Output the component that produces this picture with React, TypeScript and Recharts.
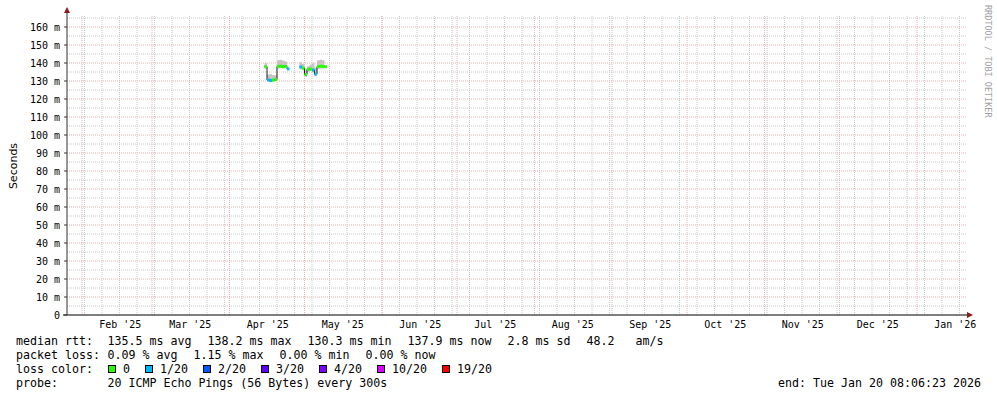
import React from "react";
import { Area, ComposedChart, Line, ReferenceLine, Scatter, XAxis, YAxis } from "recharts";

const MONO = "'DejaVu Sans Mono', monospace";

// samples (one per day), gap on Apr 25 - Apr 28
const DATES = [
  "2025-04-15", "2025-04-16", "2025-04-17", "2025-04-18", "2025-04-19", "2025-04-20",
  "2025-04-21", "2025-04-22", "2025-04-23", "2025-04-24", "2025-04-25",
  "2025-04-29", "2025-04-30", "2025-05-01", "2025-05-02", "2025-05-03", "2025-05-04",
  "2025-05-05", "2025-05-06", "2025-05-07", "2025-05-08", "2025-05-09",
];
const MEDIAN = [
  138.0, 130.6, 130.3, 130.5, 130.8, 138.1, 138.2, 138.0, 138.1, 136.7, null,
  137.8, 137.2, 133.6, 136.4, 136.7, 136.1, 133.9, 138.0, 138.2, 138.1, 137.9,
];
const LOSS = [0, 1, 1, 0, 0, 0, 0, 0, 0, 1, null, 1, 0, 0, 0, 0, 1, 1, 0, 0, 0, 0];
const SMOKE_LO = [
  136.8, 129.8, 129.5, 129.7, 130.0, 137.0, 137.2, 137.0, 137.2, 135.4, null,
  136.6, 136.0, 132.4, 135.2, 135.6, 134.8, 132.6, 136.8, 137.0, 137.0, 136.8,
];
const SMOKE_HI = [
  139.8, 133.6, 133.8, 133.4, 133.2, 141.6, 141.8, 141.4, 140.8, 139.0, null,
  140.4, 139.6, 136.4, 138.2, 139.0, 139.8, 137.2, 141.4, 141.8, 141.6, 140.6,
];

const LOSS_LABELS = ["0", "1/20", "2/20", "3/20", "4/20", "10/20", "19/20"];
const LOSS_STEPS = [0, 1, 2, 3, 4, 10, 19];
const LOSS_COLORS = ["#26ff00", "#00b8ff", "#0059ff", "#5e00ff", "#7e00ff", "#dd00ff", "#ff0000"];

const MONTH_LABELS = [
  "Feb '25", "Mar '25", "Apr '25", "May '25", "Jun '25", "Jul '25",
  "Aug '25", "Sep '25", "Oct '25", "Nov '25", "Dec '25", "Jan '26",
];
const Y_TICKS = [0, 10, 20, 30, 40, 50, 60, 70, 80, 90, 100, 110, 120, 130, 140, 150, 160];

const RTT_ITEMS = ["135.5 ms avg", "138.2 ms max", "130.3 ms min", "137.9 ms now", "2.8 ms sd", "48.2   am/s"];
const LOSS_ITEMS = ["0.09 % avg", "1.15 % max", "0.00 % min", "0.00 % now"];
const PROBE_TEXT = "20 ICMP Echo Pings (56 Bytes) every 300s";
const END_TEXT = "end: Tue Jan 20 08:06:23 2026";

// x is in days since 2025-02-01 (UTC)
const BASE = Date.UTC(2025, 1, 1);
const DAY_MS = 86400000;
const toDay = (s: string) => (Date.parse(s + "T00:00:00Z") - BASE) / DAY_MS;
const X_DOMAIN: [number, number] = [-6, 354];
const PLOT_W = 900;
const DAY_PX = PLOT_W / (X_DOMAIN[1] - X_DOMAIN[0]);

const rows = DATES.map((s, i) => ({
  d: toDay(s),
  median: MEDIAN[i],
  smoke: SMOKE_LO[i] == null ? null : [SMOKE_LO[i], SMOKE_HI[i]],
  loss: LOSS[i],
}));
const points = rows.filter((r) => r.median != null);

const monthStarts = MONTH_LABELS.map((_, i) => (Date.UTC(2025, 1 + i, 1) - BASE) / DAY_MS);
const labelTicks = monthStarts.map((d) => d + 15.3);
const weekLines: number[] = [];
for (let d = 1; d <= X_DOMAIN[1]; d += 7) weekLines.push(d);
const minorY: number[] = [];
for (let v = 5; v <= 165; v += 10) minorY.push(v);

const lossIndex = (n: number) => {
  let k = 0;
  LOSS_STEPS.forEach((s, i) => {
    if (n >= s) k = i;
  });
  return k;
};

const LossBar = (p: any) => {
  if (p.cx == null || p.cy == null) return <g />;
  const c = LOSS_COLORS[lossIndex(p.payload.loss ?? 0)];
  return <rect x={p.cx} y={p.cy - 1.5} width={DAY_PX} height={3} fill={c} />;
};

const YDecor = (props: any) => {
  const { x, y, width, height } = props.viewBox;
  const ax = x + width;
  return (
    <g>
      <line x1={ax} y1={y} x2={ax} y2={y - 2} stroke="#333" />
      <polygon points={`${ax - 3},${y - 2} ${ax + 3},${y - 2} ${ax},${y - 8}`} fill="#8b1a1a" />
      <text
        transform={`translate(16.7, ${y + height / 2 + 1}) rotate(-90)`}
        textAnchor="middle"
        fontFamily="'DejaVu Sans', sans-serif"
        fontSize={11}
        fill="#000"
      >
        Seconds
      </text>
    </g>
  );
};

const XDecor = (props: any) => {
  const { x, y, width } = props.viewBox;
  const right = x + width;
  return (
    <g>
      <line x1={x - 4} y1={y} x2={x} y2={y} stroke="#000" />
      <polygon points={`${right},${y - 3} ${right},${y + 3} ${right + 6},${y}`} fill="#8b1a1a" />
    </g>
  );
};

const CH = 7; // char advance of the legend font
const COL0 = 107.4;
const GAP = 16;

const row = (items: string[], y: number) => {
  let x = COL0;
  return items.map((t) => {
    const el = (
      <text key={t + y} x={x} y={y} xmlSpace="preserve">
        {t}
      </text>
    );
    x += t.length * CH + GAP;
    return el;
  });
};

const Legend = () => {
  let bx = 16 + 11 * CH + 15;
  const boxes = LOSS_LABELS.map((label, i) => {
    const x = bx;
    bx += 15 + label.length * CH + 15;
    return (
      <g key={label}>
        <rect x={x + 0.5} y={365.5} width={7} height={7} fill={LOSS_COLORS[i]} stroke="#000" />
        <text x={x + 15} y={373}>{label}</text>
      </g>
    );
  });
  return (
    <svg
      width={997}
      height={397}
      style={{ position: "absolute", left: 0, top: 0, pointerEvents: "none" }}
    >
      <g fontFamily={MONO} fontSize={11.63} fill="#000" style={{ whiteSpace: "pre" }}>
        <text x={16} y={345}>median rtt:</text>
        {row(RTT_ITEMS, 345)}
        <text x={16} y={359}>packet loss:</text>
        {row(LOSS_ITEMS, 359)}
        <text x={16} y={373}>loss color:</text>
        {boxes}
        <text x={16} y={387}>probe:</text>
        {row([PROBE_TEXT], 387)}
        <text x={981} y={387} textAnchor="end">{END_TEXT}</text>
      </g>
      <text
        transform="translate(984.5, 5) rotate(90)"
        fontFamily={MONO}
        fontSize={8.5}
        fill="#a0a0a0"
      >
        RRDTOOL / TOBI OETIKER
      </text>
    </svg>
  );
};

export default function App() {
  return (
    <div style={{ position: "absolute", left: 0, top: 0, width: 997, height: 397, background: "#fff" }}>
      <ComposedChart
        width={997}
        height={397}
        data={rows}
        margin={{ top: 15, right: 30, bottom: 66, left: 7 }}
      >
        {weekLines.map((d) => (
          <ReferenceLine key={`w${d}`} x={d} stroke="#c8c8c8" strokeDasharray="1 1" />
        ))}
        {minorY.map((v) => (
          <ReferenceLine key={`h${v}`} y={v} stroke="#c8c8c8" strokeDasharray="1 1" />
        ))}
        {monthStarts.map((d) => (
          <ReferenceLine key={`m${d}`} x={d} stroke="#eab0b0" strokeDasharray="1 1" />
        ))}
        {Y_TICKS.filter((v) => v > 0).map((v) => (
          <ReferenceLine key={`y${v}`} y={v} stroke="#eab0b0" strokeDasharray="1 1" />
        ))}
        <XAxis
          dataKey="d"
          type="number"
          domain={X_DOMAIN}
          allowDataOverflow
          ticks={labelTicks}
          interval={0}
          tickFormatter={(v: number) => MONTH_LABELS[labelTicks.indexOf(v)] ?? ""}
          tickLine={false}
          tickSize={0}
          tickMargin={6}
          height={16}
          axisLine={{ stroke: "#000" }}
          tick={{ fontFamily: MONO, fontSize: 10, fill: "#000" }}
          label={XDecor}
        />
        <YAxis
          type="number"
          domain={[0, 166.67]}
          allowDataOverflow
          ticks={Y_TICKS}
          interval={0}
          tickFormatter={(v: number) => (v === 0 ? "0" : `${v} m`)}
          width={60}
          tickSize={3}
          tickMargin={4}
          axisLine={{ stroke: "#333" }}
          tickLine={{ stroke: "#333" }}
          tick={{ fontFamily: MONO, fontSize: 10, fill: "#000" }}
          label={YDecor}
        />
        <Area
          dataKey="smoke"
          type="stepAfter"
          stroke="none"
          fill="#c4c4c4"
          fillOpacity={1}
          isAnimationActive={false}
        />
        <Line
          dataKey="median"
          type="stepAfter"
          stroke="#202020"
          strokeWidth={1}
          dot={false}
          isAnimationActive={false}
        />
        <Scatter data={points} dataKey="median" shape={LossBar} isAnimationActive={false} />
      </ComposedChart>
      <Legend />
    </div>
  );
}
